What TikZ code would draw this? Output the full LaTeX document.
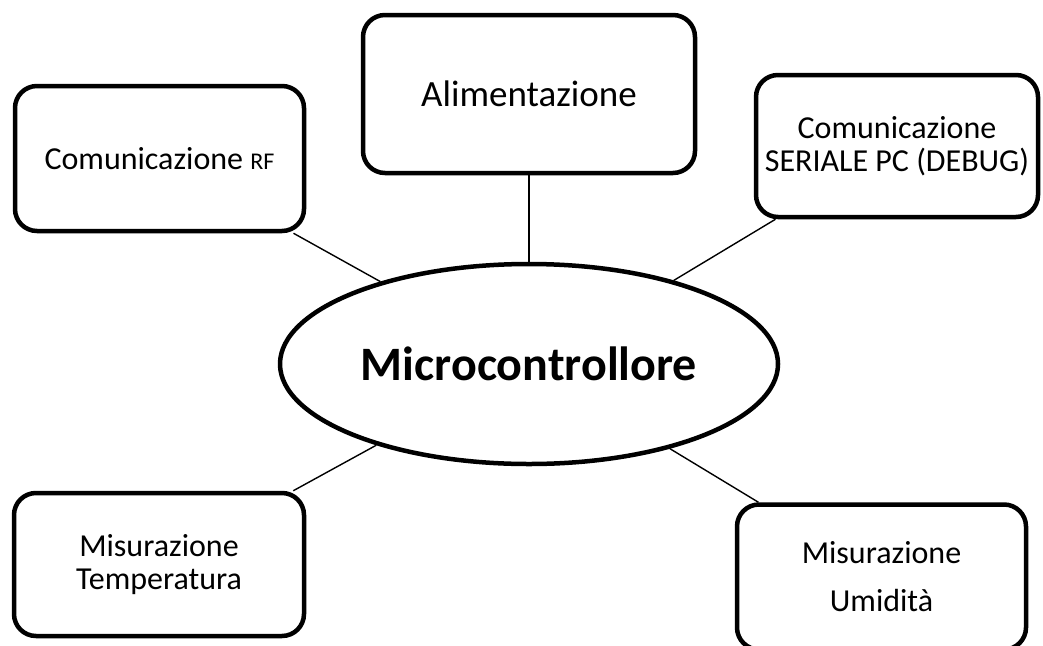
\documentclass[tikz,border=0pt]{standalone}
\usepackage{fontspec}
\setmainfont{Carlito}
\usetikzlibrary{shapes.geometric}

\tikzset{
  block/.style={draw, line width=4.5pt, rounded corners=22pt, align=center,
    inner sep=0pt, font=\fontsize{32}{33}\selectfont},
  core/.style={draw, ellipse, line width=4.5pt, inner sep=0pt,
    minimum width=498pt, minimum height=200pt,
    font=\fontsize{48}{50}\selectfont\bfseries},
  link/.style={line width=1.4pt}
}

\begin{document}
\begin{tikzpicture}[x=1pt, y=-1pt]
  \useasboundingbox (0,0) rectangle (1043,645);
  \clip (0,0) rectangle (1043,645);

  % central microcontroller
  \node[core] (mc) at (529,364) {Microcontrollore};

  % peripheral blocks
  \node[block, minimum width=289pt, minimum height=145pt] (rf) at (159.5,158.5)
    {Comunicazione {\fontsize{24}{25}\selectfont RF}};
  \node[block, minimum width=332pt, minimum height=158pt,
        font=\fontsize{37}{39}\selectfont] (alim) at (529,94) {Alimentazione};
  \node[block, minimum width=282pt, minimum height=142pt] (ser) at (897,146)
    {Comunicazione\\SERIALE PC (DEBUG)};
  \node[block, minimum width=290pt, minimum height=143pt] (temp) at (159,564.5)
    {Misurazione\\Temperatura};
  \node[block, minimum width=289pt, minimum height=145pt,
        font=\fontsize{32}{48}\selectfont] (umi) at (881.5,577)
    {Misurazione\\Umidità};

  % connections to the microcontroller
  \draw[link] (mc.north) -- (alim.south);
  \draw[link] (mc.151) -- (rf);
  \draw[link] (mc.30) -- (ser);
  \draw[link] (mc.208.6) -- (temp);
  \draw[link] (mc.329) -- (umi);
\end{tikzpicture}
\end{document}
